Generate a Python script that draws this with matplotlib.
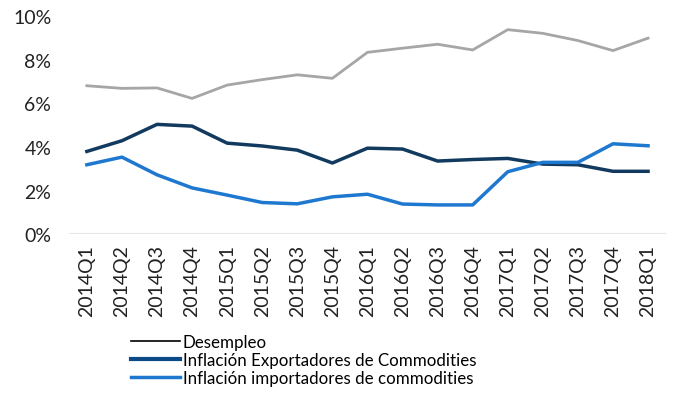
import numpy as np
import matplotlib.pyplot as plt
from matplotlib.lines import Line2D
from matplotlib.ticker import PercentFormatter

plt.rcParams['font.family'] = ['Lato', 'DejaVu Sans']

quarters = ["2014Q1", "2014Q2", "2014Q3", "2014Q4", "2015Q1", "2015Q2", "2015Q3", "2015Q4",
            "2016Q1", "2016Q2", "2016Q3", "2016Q4", "2017Q1", "2017Q2", "2017Q3", "2017Q4",
            "2018Q1"]
desempleo = [6.80, 6.68, 6.70, 6.22, 6.83, 7.08, 7.30, 7.14, 8.33, 8.52, 8.70, 8.44, 9.37,
             9.20, 8.87, 8.41, 8.98]
infl_export = [3.79, 4.28, 5.03, 4.95, 4.17, 4.04, 3.85, 3.26, 3.94, 3.90, 3.35, 3.42, 3.47,
               3.21, 3.18, 2.88, 2.88]
infl_import = [3.18, 3.53, 2.72, 2.12, 1.79, 1.45, 1.39, 1.71, 1.83, 1.38, 1.34, 1.34, 2.86,
               3.29, 3.29, 4.14, 4.05]

c_gray = "#a6a6a6"
c_navy = "#123a5e"
c_blue = "#1f78d0"

fig = plt.figure(figsize=(6.73, 4.02), dpi=100)
ax = fig.add_axes([0.103, 0.415, 0.886, 0.543])

xs = np.arange(len(quarters))
ax.plot(xs, np.array(desempleo) / 100, color=c_gray, lw=2)
ax.plot(xs, np.array(infl_export) / 100, color=c_navy, lw=2.5)
ax.plot(xs, np.array(infl_import) / 100, color=c_blue, lw=2.5)

ax.set_xlim(-0.5, len(quarters) - 0.5)
ax.set_ylim(0, 0.10)
ax.set_yticks(np.arange(0, 0.101, 0.02))
ax.yaxis.set_major_formatter(PercentFormatter(1.0, decimals=0))
ax.set_xticks(xs)
ax.set_xticklabels(quarters, rotation=90)
ax.tick_params(length=0, labelsize=14, colors="#222222")
ax.tick_params(axis="y", pad=13)
ax.tick_params(axis="x", pad=7)
for s in ax.spines.values():
    s.set_visible(False)
ax.axhline(0, color="#e6e6e6", lw=1.5)

handles = [Line2D([], [], color="black", lw=1.2),
           Line2D([], [], color="#0b4a86", lw=3),
           Line2D([], [], color=c_blue, lw=2.5)]
labels = ["Desempleo", "Inflación Exportadores de Commodities",
          "Inflación importadores de commodities"]
fig.legend(handles, labels, loc="upper left", bbox_to_anchor=(0.185, 0.183),
           frameon=False, fontsize=12.2, handlelength=2.85, handletextpad=0.2,
           labelspacing=0.1, borderaxespad=0)

fig.savefig("out.png", dpi=100)
